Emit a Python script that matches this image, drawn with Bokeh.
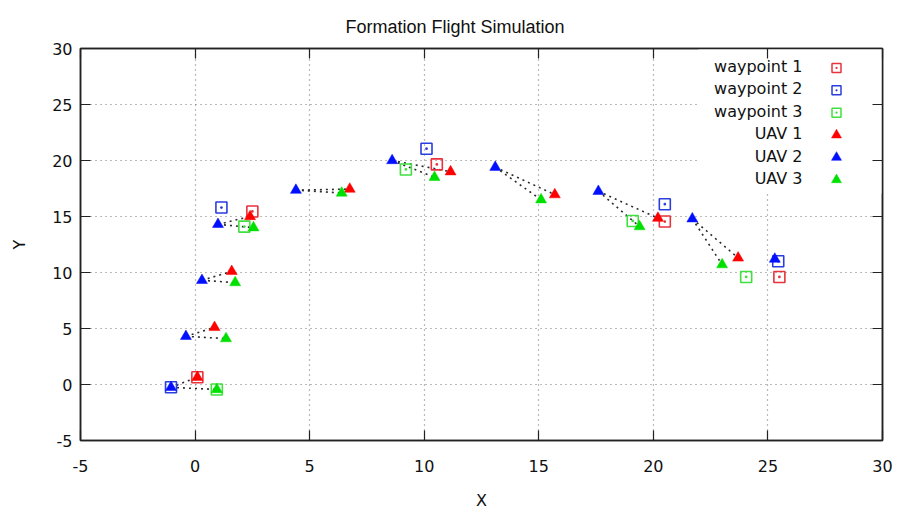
from bokeh.plotting import figure
from bokeh.models import (Range1d, FixedTicker, LinearAxis, Label, BoxAnnotation)
from bokeh.embed import file_html
from bokeh.resources import INLINE

# ---- data ----
wp1_x = [0.1, 2.5, 10.55, 20.5, 25.5]
wp1_y = [0.65, 15.45, 19.65, 14.55, 9.6]
wp2_x = [-1.05, 1.15, 10.1, 20.5, 25.45]
wp2_y = [-0.25, 15.8, 21.05, 16.1, 11.0]
wp3_x = [0.95, 2.15, 9.2, 19.1, 24.05]
wp3_y = [-0.45, 14.1, 19.2, 14.6, 9.6]

uav1_x = [0.1, 0.85, 1.6, 2.4, 6.75, 11.15, 15.7, 20.2, 23.7]
uav1_y = [0.65, 5.1, 10.1, 15.0, 17.45, 19.0, 16.95, 14.85, 11.3]
uav2_x = [-1.05, -0.4, 0.3, 1.0, 4.4, 8.6, 13.1, 17.6, 21.7, 25.3]
uav2_y = [-0.25, 4.3, 9.3, 14.3, 17.35, 20.0, 19.4, 17.25, 14.8, 11.2]
uav3_x = [0.95, 1.35, 1.75, 2.55, 6.4, 10.45, 15.1, 19.4, 23.0]
uav3_y = [-0.45, 4.1, 9.1, 14.0, 17.1, 18.5, 16.5, 14.1, 10.7]

ticks = [-5, 0, 5, 10, 15, 20, 25, 30]
tick_labels = ["-5", "0", "5", "10", "15", "20", "25", "30"]
labels = ["waypoint 1", "waypoint 2", "waypoint 3", "UAV 1", "UAV 2", "UAV 3"]
sq_colors = ["#e8323c", "#2a3ee0", "#3fe03f"]
tri_colors = ["#ff0000", "#0010ff", "#00e000"]
title_text = "Formation Flight Simulation"

FONT = "DejaVu Sans"
FRAME_W, FRAME_H = 802, 394

p = figure(width=897, height=512, output_backend="svg", toolbar_location=None,
           x_range=Range1d(-5, 30), y_range=Range1d(-5, 30),
           min_border_left=80, min_border_right=15, min_border_top=48,
           min_border_bottom=70, x_axis_label="X", y_axis_label="Y")
# pixel-based ranges for the key (legend) placed inside the frame
p.extra_x_ranges = {"key": Range1d(0, FRAME_W)}
p.extra_y_ranges = {"key": Range1d(0, FRAME_H)}

p.title.text = title_text
p.title.text_font = "Liberation Sans"
p.title.text_font_size = "18px"
p.title.text_font_style = "normal"
p.title.text_line_height = 1.6
p.title.vertical_align = "top"
p.title.standoff = 20
p.title.align = "left"
p.title.offset = 265
p.title.text_color = "#111111"

p.outline_line_color = "#222222"
p.outline_line_width = 1.5
p.background_fill_color = "white"
p.border_fill_color = "white"

overrides = {t: s for t, s in zip(ticks, tick_labels)}
for ax in (p.xaxis[0], p.yaxis[0]):
    ax.ticker = FixedTicker(ticks=ticks)
    ax.major_label_overrides = overrides
    ax.major_tick_in = 10
    ax.major_tick_out = 0
    ax.minor_tick_line_color = None
    ax.major_tick_line_color = "#222222"
    ax.major_tick_line_width = 1.2
    ax.axis_line_color = "#222222"
    ax.axis_line_width = 1.5
    ax.major_label_text_font = FONT
    ax.major_label_text_font_size = "16px"
    ax.major_label_text_color = "#111111"
    ax.axis_label_text_font = FONT
    ax.axis_label_text_font_size = "16px"
    ax.axis_label_text_font_style = "normal"
    ax.axis_label_text_color = "#111111"
p.xaxis.major_label_standoff = 19
p.xaxis.axis_label_standoff = 16
p.yaxis.major_label_standoff = 8
p.yaxis.axis_label_standoff = 20

# mirror ticks on the right and top (no labels)
for side in ("right", "above"):
    a = LinearAxis(ticker=FixedTicker(ticks=ticks), major_tick_in=10, major_tick_out=0,
                   minor_tick_line_color=None, major_label_text_font_size="1px",
                   major_label_text_color=None, major_label_standoff=0,
                   major_tick_line_color="#222222", major_tick_line_width=1.2,
                   axis_line_color="#222222", axis_line_width=1.5)
    p.add_layout(a, side)

for g in p.grid:
    g.ticker = FixedTicker(ticks=ticks)
    g.grid_line_color = "#777777"
    g.grid_line_dash = "1 4"
    g.grid_line_width = 1.2

# white area behind the key (hides the grid like gnuplot)
p.add_layout(BoxAnnotation(left=618, right=FRAME_W, bottom=247, top=FRAME_H,
                           left_units="screen", right_units="screen",
                           bottom_units="screen", top_units="screen",
                           fill_color="white", fill_alpha=1.0, line_color=None,
                           level="underlay"))

# dotted formation links: UAV 2 to UAV 1 and UAV 2 to UAV 3 at each snapshot
n = len(uav1_x)
p.segment(x0=uav2_x[:n] + uav2_x[:n], y0=uav2_y[:n] + uav2_y[:n],
          x1=uav1_x + uav3_x, y1=uav1_y + uav3_y,
          line_color="#2a2a2a", line_width=1.6, line_dash="2 4")

for (xs, ys), c in zip([(wp1_x, wp1_y), (wp2_x, wp2_y), (wp3_x, wp3_y)], sq_colors):
    p.scatter(xs, ys, marker="square_dot", size=11, fill_color=None,
              line_color=c, line_width=1.6)
for (xs, ys), c in zip([(uav1_x, uav1_y), (uav2_x, uav2_y), (uav3_x, uav3_y)], tri_colors):
    p.scatter(xs, ys, marker="triangle", size=11, fill_color=c,
              line_color=c, line_width=0.5)

# key: right-aligned text with the sample marker to its right (gnuplot style)
row_y = [FRAME_H - 19.5 - 22.5 * i for i in range(len(labels))]
text_x = 722
mark_x = 756
for lab, y in zip(labels, row_y):
    p.add_layout(Label(x=text_x, y=y, x_units="screen", y_units="screen", text=lab,
                       text_align="right", text_baseline="middle", text_font=FONT,
                       text_font_size="16px", text_color="#111111"))
key_colors = sq_colors + tri_colors
key_markers = ["square_dot"] * 3 + ["triangle"] * 3
for i, (c, m) in enumerate(zip(key_colors, key_markers)):
    filled = m == "triangle"
    p.scatter([mark_x], [row_y[i]], x_range_name="key", y_range_name="key",
              marker=m, size=10 if filled else 9,
              fill_color=c if filled else None, line_color=c,
              line_width=0.5 if filled else 1.5)

open("out.html", "w").write(file_html(p, INLINE))
